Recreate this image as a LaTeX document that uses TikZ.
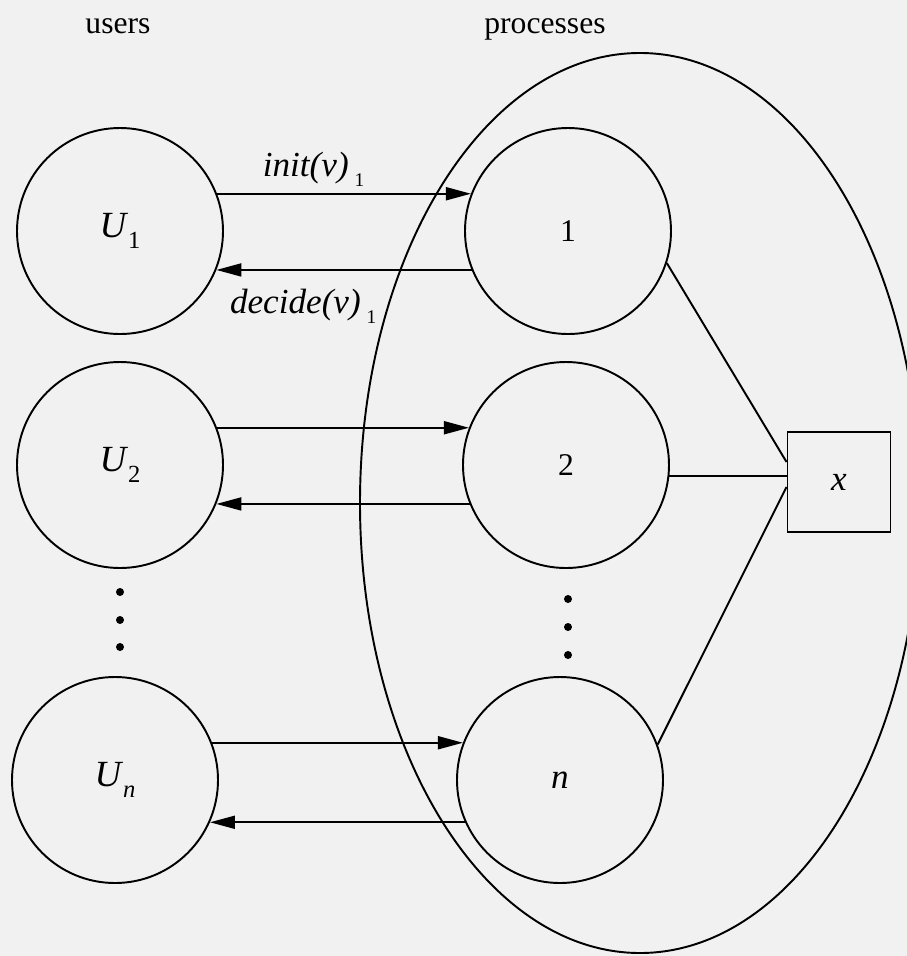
\documentclass[tikz,border=0pt]{standalone}
\usepackage{fontspec}
\setmainfont{Liberation Serif}
\usetikzlibrary{arrows.meta}

\definecolor{paper}{RGB}{241,241,241}
\newcommand{\lowidx}[2]{\raisebox{-0.3em}{\fontsize{#1}{#1}\selectfont\upshape #2}}

\tikzset{
  proc/.style={circle, draw, line width=1.1pt, minimum size=4.12cm, inner sep=0pt,
    font=\fontsize{18}{20}\selectfont},
  user/.style={proc, font=\fontsize{21}{24}\selectfont},
  msg/.style={line width=1.1pt, -{Triangle[length=0.5cm,width=0.26cm]}},
  link/.style={line width=1.1pt},
  heading/.style={anchor=base, font=\fontsize{18}{20}\selectfont},
  act/.style={font=\fontsize{20}{24}\selectfont\itshape},
}

\begin{document}
\begin{tikzpicture}[x=0.2mm, y=-0.2mm]
    % Paper
    \fill[paper] (0,0) rectangle (907,956);
    \clip (0,0) rectangle (907,956);

    % Headings
    \node[heading] (users) at (118,33) {users};
    \node[heading] (procs) at (545,33) {processes};

    % The group of processes
    \draw[link] (640,503) ellipse [x radius=5.6cm, y radius=9cm];

    % Users on the left, processes on the right
    \node[user] (u1) at (120,231) {\textit{U}\lowidx{14}{1}};
    \node[user] (u2) at (120,465) {\textit{U}\lowidx{14}{2}};
    \node[user] (un) at (115,780) {\textit{U}\lowidx{14}{\itshape n}};
    \node[proc] (p1) at (568,231) {1};
    \node[proc] (p2) at (566,465) {2};
    \node[proc] (pn) at (560,780) {\fontsize{20}{24}\selectfont\itshape n};

    % Shared variable
    \node[draw, link, minimum width=2.06cm, minimum height=2cm,
      font=\fontsize{20}{24}\selectfont\itshape] (xbox) at (839,482) {x};

    % Dots
    \foreach \y in {592,620,647} \fill (120,\y) circle (0.08cm);
    \foreach \y in {599,627,655} \fill (568,\y) circle (0.08cm);

    % Messages between users and processes
    \draw[msg] (u1.21) -- node[act, above, pos=0.38] (init) {init(v)\,\lowidx{11}{1}} (p1.159);
    \draw[msg] (p1.-158) -- node[act, below=0.24cm, pos=0.66] (decide) {decide(v)\,\lowidx{11}{1}} (u1.-22);
    \draw[msg] (u2.21) -- (p2.159);
    \draw[msg] (p2.-158) -- (u2.-22);
    \draw[msg] (un.21) -- (pn.159);
    \draw[msg] (pn.-156) -- (un.-24);

    % Links to the variable
    \draw[link] (p1.-18) -- ([yshift=0.4cm]xbox.west);
    \draw[link] (p2.-6) -- (p2.-6 -| xbox.west);
    \draw[link] (pn.20) -- ([yshift=-0.1cm]xbox.west);
\end{tikzpicture}
\end{document}
